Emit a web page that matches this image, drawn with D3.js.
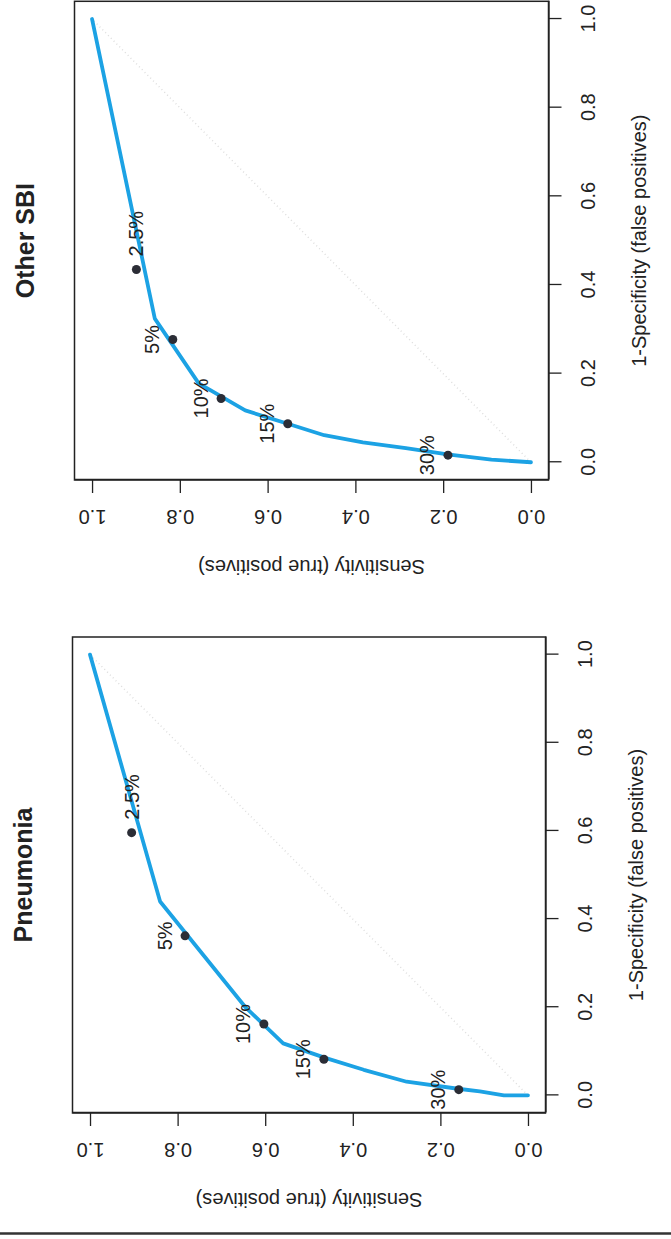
<!DOCTYPE html>
<html>
<head>
<meta charset="utf-8">
<script src="https://cdn.jsdelivr.net/npm/d3@7"></script>
<style>
  body { margin: 0; background: #fff; }
  text { font-family: "Liberation Sans", Arial, sans-serif; }
</style>
</head>
<body>
<div id="chart"></div>
<script>
// Step 1: Data
//= ================================
var panelTitles = ["Other SBI", "Pneumonia"];
var cutoffLabels = ["2.5%", "5%", "10%", "15%", "30%"];
var tickValues = [0, 0.2, 0.4, 0.6, 0.8, 1.0];

// Other SBI: ROC curve vertices (1-specificity, sensitivity)
var sbiCurveFpr = [0, 0.006, 0.018, 0.032, 0.045, 0.061, 0.087, 0.117, 0.178, 0.324, 1];
var sbiCurveSens = [0, 0.09, 0.19, 0.285, 0.383, 0.471, 0.554, 0.651, 0.757, 0.857, 1];
// Other SBI: cut-off points
var sbiPointFpr = [0.435, 0.277, 0.144, 0.087, 0.016];
var sbiPointSens = [0.899, 0.816, 0.706, 0.554, 0.189];

// Pneumonia: ROC curve vertices
var pneuCurveFpr = [0, 0, 0.009, 0.015, 0.031, 0.058, 0.085, 0.118, 0.201, 0.44, 1];
var pneuCurveSens = [0, 0.055, 0.11, 0.16, 0.277, 0.375, 0.463, 0.559, 0.646, 0.84, 1];
// Pneumonia: cut-off points
var pneuPointFpr = [0.596, 0.362, 0.162, 0.082, 0.013];
var pneuPointSens = [0.905, 0.783, 0.603, 0.466, 0.158];

// where each cut-off label sits relative to its point
var labelSide = ["right", "above", "above", "above", "above"];

// Step 2: Page layout (the printed page is turned 90 degrees)
//= ================================
var svgWidth = 671;
var svgHeight = 1239;

var boxes = [
  { left: 74.5, top: 1.3, right: 548.5, bottom: 480 },
  { left: 72.5, top: 637, right: 545.5, bottom: 1113 }
];

var panels = [
  { title: panelTitles[0], cFpr: sbiCurveFpr, cSens: sbiCurveSens, pFpr: sbiPointFpr, pSens: sbiPointSens, box: boxes[0] },
  { title: panelTitles[1], cFpr: pneuCurveFpr, cSens: pneuCurveSens, pFpr: pneuPointFpr, pSens: pneuPointSens, box: boxes[1] }
];

var ink = "#222";
var curveColor = "#1ca2e4";

var svg = d3.select("#chart")
  .append("svg")
  .attr("width", svgWidth)
  .attr("height", svgHeight);

// Step 3: One ROC panel, drawn upright and then turned -90deg
//= ================================
function drawPanel(p) {
  var W = p.box.bottom - p.box.top;   // along 1-specificity
  var H = p.box.right - p.box.left;   // along sensitivity

  var g = svg.append("g")
    .attr("transform", `translate(${p.box.left}, ${p.box.bottom}) rotate(-90)`);

  // R style: 4% padding on each side of [0, 1]
  var x = d3.scaleLinear().domain([-0.04, 1.04]).range([0, W]);
  var y = d3.scaleLinear().domain([-0.04, 1.04]).range([H, 0]);

  // faint chance diagonal
  g.append("line")
    .attr("x1", x(0)).attr("y1", y(0))
    .attr("x2", x(1)).attr("y2", y(1))
    .attr("stroke", "#dedede")
    .attr("stroke-width", 1.5)
    .attr("stroke-dasharray", "1,3");

  // ROC curve
  var curveData = p.cFpr.map(function (f, i) { return [f, p.cSens[i]]; });
  var line = d3.line()
    .x(d => x(d[0]))
    .y(d => y(d[1]));

  g.append("path")
    .datum(curveData)
    .attr("d", line)
    .attr("fill", "none")
    .attr("stroke", curveColor)
    .attr("stroke-width", 3.8)
    .attr("stroke-linejoin", "round")
    .attr("stroke-linecap", "round");

  // cut-off points
  var pts = cutoffLabels.map(function (lab, i) {
    return { label: lab, fpr: p.pFpr[i], sens: p.pSens[i], side: labelSide[i] };
  });

  g.selectAll("circle.cut")
    .data(pts)
    .enter()
    .append("circle")
    .attr("class", "cut")
    .attr("cx", d => x(d.fpr))
    .attr("cy", d => y(d.sens))
    .attr("r", 4.5)
    .attr("fill", "#2b2d36");

  g.selectAll("text.cut")
    .data(pts)
    .enter()
    .append("text")
    .attr("class", "cut")
    .attr("x", d => x(d.fpr) + (d.side === "right" ? 13 : 0))
    .attr("y", d => y(d.sens) - (d.side === "above" ? 20.5 : 0))
    .attr("dy", "0.35em")
    .attr("text-anchor", d => d.side === "right" ? "start" : "middle")
    .attr("font-size", 20)
    .attr("fill", ink)
    .text(d => d.label);

  // axes
  var bottomAxis = d3.axisBottom(x)
    .tickValues(tickValues)
    .tickFormat(d3.format(".1f"))
    .tickSize(13)
    .tickSizeOuter(0);

  var leftAxis = d3.axisLeft(y)
    .tickValues(tickValues)
    .tickFormat(d3.format(".1f"))
    .tickSize(13)
    .tickSizeOuter(0);

  var xAxis = g.append("g")
    .attr("transform", `translate(0, ${H})`)
    .call(bottomAxis)
    .attr("font-family", null)
    .attr("font-size", 20)
    .attr("color", ink);
  xAxis.selectAll("text")
    .attr("y", 39)
    .attr("dy", "0.35em");

  var yAxis = g.append("g")
    .call(leftAxis)
    .attr("font-family", null)
    .attr("font-size", 20)
    .attr("color", ink);
  yAxis.selectAll("text")
    .attr("x", null)
    .attr("dy", "0.35em")
    .attr("text-anchor", "middle")
    .attr("transform", "translate(-37, 0) rotate(-90)");

  g.selectAll(".tick line").attr("stroke-width", 1.3);
  g.selectAll(".domain").attr("stroke-width", 1.3);

  // plot box
  g.append("rect")
    .attr("width", W)
    .attr("height", H)
    .attr("fill", "none")
    .attr("stroke", ink)
    .attr("stroke-width", 1.5);

  // axis titles
  g.append("text")
    .attr("x", W / 2)
    .attr("y", H + 90.5)
    .attr("dy", "0.35em")
    .attr("text-anchor", "middle")
    .attr("font-size", 20)
    .attr("fill", ink)
    .text("1-Specificity (false positives)");

  g.append("text")
    .attr("transform", `translate(-87, ${H / 2}) rotate(-90)`)
    .attr("dy", "0.35em")
    .attr("text-anchor", "middle")
    .attr("font-size", 20)
    .attr("fill", ink)
    .text("Sensitivity (true positives)");

  // panel title
  g.append("text")
    .attr("x", W / 2)
    .attr("y", -49)
    .attr("dy", "0.35em")
    .attr("text-anchor", "middle")
    .attr("font-size", 25)
    .attr("font-weight", "bold")
    .attr("fill", ink)
    .text(p.title);
}

panels.forEach(drawPanel);

// page rule under the lower figure
svg.append("line")
  .attr("x1", 0).attr("x2", svgWidth)
  .attr("y1", 1233.5).attr("y2", 1233.5)
  .attr("stroke", "#333")
  .attr("stroke-width", 2.5);
</script>
</body>
</html>
